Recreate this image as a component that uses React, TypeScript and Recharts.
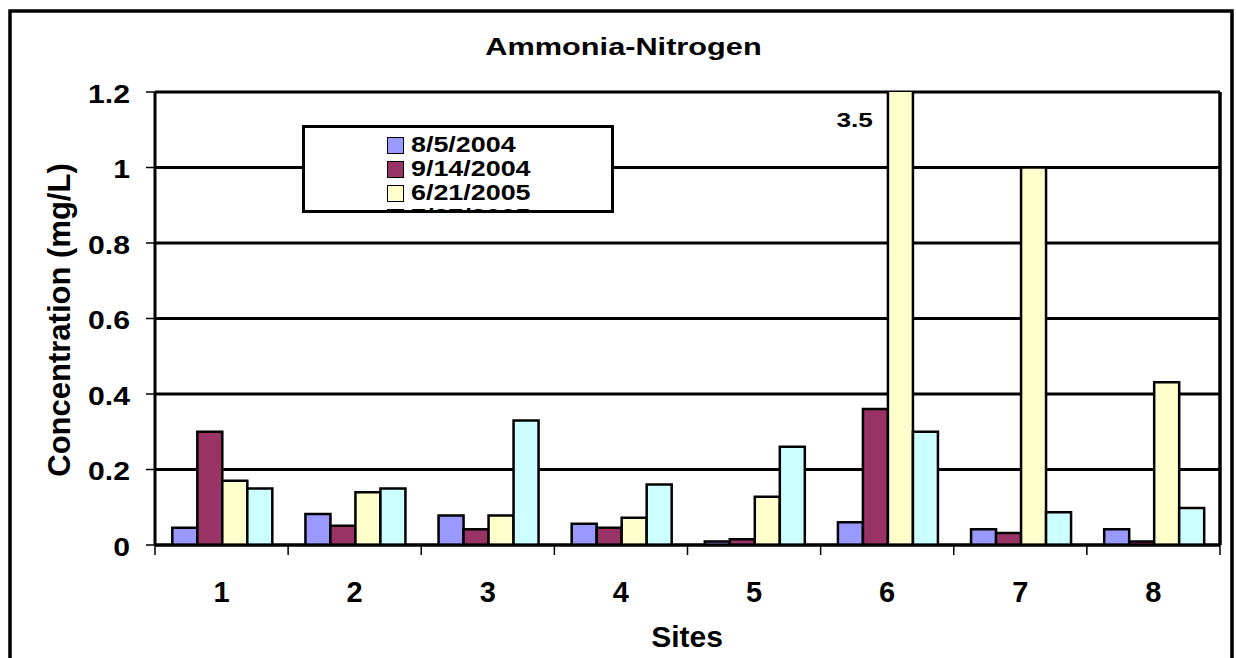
import React from 'react';
import { BarChart, Bar, XAxis, YAxis, CartesianGrid, Legend, LabelList } from 'recharts';

const sites = ['1', '2', '3', '4', '5', '6', '7', '8'];
const aug2004 = [0.046, 0.082, 0.078, 0.056, 0.009, 0.06, 0.042, 0.042];
const sep2004 = [0.3, 0.051, 0.042, 0.046, 0.015, 0.36, 0.032, 0.009];
const jun2005 = [0.17, 0.14, 0.078, 0.072, 0.128, 3.5, 1.0, 0.431];
const jul2005 = [0.15, 0.15, 0.33, 0.16, 0.26, 0.3, 0.087, 0.098];
const yTicks = [0, 0.2, 0.4, 0.6, 0.8, 1, 1.2];

const series = [
  { key: 'd1', name: '8/5/2004', values: aug2004, color: '#9999FF' },
  { key: 'd2', name: '9/14/2004', values: sep2004, color: '#993366' },
  { key: 'd3', name: '6/21/2005', values: jun2005, color: '#FFFFCC' },
  { key: 'd4', name: '7/27/2005', values: jul2005, color: '#CCFFFF' },
];

const data = sites.map((site, i) => {
  const row: any = { site };
  series.forEach(s => { row[s.key] = s.values[i]; });
  return row;
});

const FONT = '"Liberation Sans", Arial, sans-serif';
const Y_MAX = yTicks[yTicks.length - 1];
const X_LABEL_GAP = 47;

const YTick = ({ x, y, payload }: any) => (
  <text
    transform={`translate(${x},${y + 2}) scale(1.16,1)`}
    textAnchor="end"
    dominantBaseline="central"
    fontFamily={FONT}
    fontWeight="bold"
    fontSize={26}
    fill="#000"
  >
    {String(payload.value)}
  </text>
);

// category label plus Excel-style tick marks on the category boundaries
const XTick = ({ x, y, payload, index, visibleTicksCount }: any) => {
  const half = payload.offset || 0;
  const axisY = y - X_LABEL_GAP;
  const isLast = index === visibleTicksCount - 1;
  return (
    <g>
      <line x1={x - half} x2={x - half} y1={axisY} y2={axisY + 10} stroke="#000" strokeWidth={1.5} />
      {isLast && <line x1={x + half} x2={x + half} y1={axisY} y2={axisY + 10} stroke="#000" strokeWidth={1.5} />}
      <text x={x} y={y} textAnchor="middle" dominantBaseline="central" fontFamily={FONT} fontWeight="bold" fontSize={29} fill="#000">
        {payload.value}
      </text>
    </g>
  );
};

// value label for bars cut off by the axis maximum
const OverflowLabel = (props: any) => {
  const { x, y, height, value } = props;
  if (value <= Y_MAX) return null;
  const bottom = y + height;
  const top = bottom - height * (Y_MAX / value);
  return (
    <text
      transform={`translate(${x - 15},${top + 27}) scale(1.25,1)`}
      textAnchor="end"
      dominantBaseline="central"
      fontFamily={FONT}
      fontWeight="bold"
      fontSize={21}
      fill="#000"
    >
      {value}
    </text>
  );
};

const LegendBox = () => (
  <div
    style={{
      boxSizing: 'border-box',
      width: 312,
      height: 88,
      border: '3px solid #000',
      background: '#fff',
      overflow: 'hidden',
      paddingTop: 5,
      fontFamily: FONT,
    }}
  >
    {series.map(s => (
      <div key={s.key} style={{ display: 'flex', alignItems: 'center', height: 24, marginLeft: 82 }}>
        <div style={{ boxSizing: 'border-box', width: 17, height: 17, background: s.color, border: '1.5px solid #000' }} />
        <span
          style={{
            display: 'inline-block',
            marginLeft: 7,
            fontSize: 21.5,
            fontWeight: 'bold',
            lineHeight: '24px',
            transform: 'scaleX(1.25)',
            transformOrigin: 'left center',
            whiteSpace: 'nowrap',
            color: '#000',
          }}
        >
          {s.name}
        </span>
      </div>
    ))}
  </div>
);

const App: React.FC = () => {
  return (
    <div style={{ position: 'absolute', left: 0, top: 0, width: 1236, height: 658, background: '#fff', overflow: 'hidden' }}>
      <BarChart
        width={1236}
        height={658}
        data={data}
        margin={{ top: 92, right: 14, bottom: 20, left: 10 }}
        barCategoryGap="13%"
        barGap={0}
      >
        <CartesianGrid horizontal={true} vertical={false} stroke="#000" strokeWidth={3} />
        <XAxis
          dataKey="site"
          height={93}
          tickLine={false}
          tickSize={0}
          tickMargin={X_LABEL_GAP}
          axisLine={{ stroke: '#000', strokeWidth: 3 }}
          tick={<XTick />}
          interval={0}
        />
        <YAxis
          width={145}
          domain={[0, Y_MAX]}
          ticks={yTicks}
          allowDataOverflow
          interval={0}
          tickSize={9}
          tickMargin={16}
          tick={<YTick />}
          axisLine={{ stroke: '#000', strokeWidth: 3 }}
          tickLine={{ stroke: '#000', strokeWidth: 1.5 }}
        />
        <YAxis
          yAxisId="right"
          orientation="right"
          width={2}
          domain={[0, 1]}
          tick={false}
          tickLine={false}
          axisLine={{ stroke: '#000', strokeWidth: 3.5 }}
        />
        <Legend
          layout="vertical"
          align="center"
          verticalAlign="middle"
          content={<LegendBox />}
          wrapperStyle={{ top: 125, left: 302, width: 312, height: 88 }}
        />
        {series.map(s => (
          <Bar
            key={s.key}
            dataKey={s.key}
            name={s.name}
            fill={s.color}
            stroke="#000"
            strokeWidth={2.5}
            isAnimationActive={false}
          >
            {s.key === 'd3' && <LabelList dataKey={s.key} content={<OverflowLabel />} />}
          </Bar>
        ))}
      </BarChart>
      <svg
        width={1236}
        height={658}
        style={{ position: 'absolute', left: 0, top: 0, pointerEvents: 'none' }}
      >
        <rect x={10} y={11} width={1222} height={700} fill="none" stroke="#000" strokeWidth={3.5} />
        <text
          transform="translate(623.5,47) scale(1.28,1)"
          textAnchor="middle"
          dominantBaseline="central"
          fontFamily={FONT}
          fontWeight="bold"
          fontSize={24}
          fill="#000"
        >
          Ammonia-Nitrogen
        </text>
        <text
          transform="translate(59,320) rotate(-90)"
          textAnchor="middle"
          dominantBaseline="central"
          fontFamily={FONT}
          fontWeight="bold"
          fontSize={31}
          fill="#000"
        >
          Concentration (mg/L)
        </text>
        <text x={687} y={636} textAnchor="middle" dominantBaseline="central" fontFamily={FONT} fontWeight="bold" fontSize={30} fill="#000">
          Sites
        </text>
      </svg>
    </div>
  );
};

export default App;
